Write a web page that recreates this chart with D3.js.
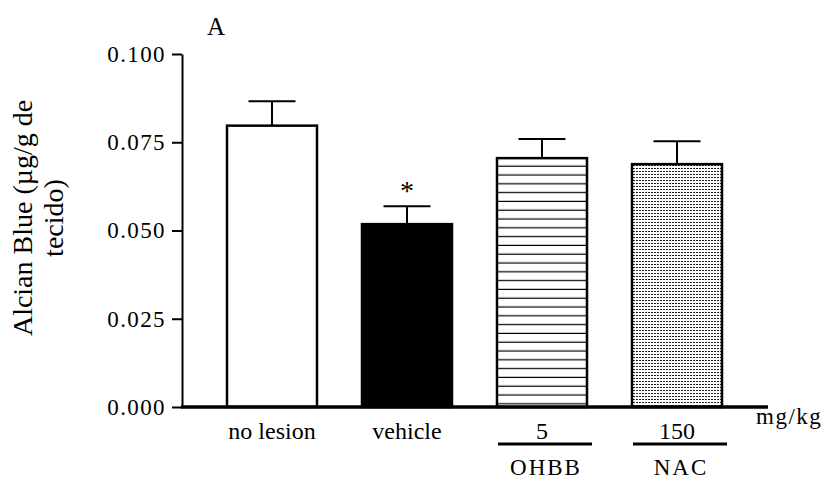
<!DOCTYPE html>
<html>
<head>
<meta charset="utf-8">
<script src="https://cdn.jsdelivr.net/npm/d3@7"></script>
<style>
  body { margin: 0; background: #fff; }
  text { font-family: "Liberation Serif", "Times New Roman", serif; fill: #000; }
</style>
</head>
<body>
<script>
// data
var categories = ["no lesion", "vehicle", "5", "150"];
var means = [0.0797, 0.0518, 0.0705, 0.0688];
var sems = [0.0069, 0.0051, 0.0054, 0.0065];
var fills = ["white", "black", "url(#hlines)", "url(#dots)"];
var groupLabels = ["", "", "OHBB", "NAC"];
var yTicks = [0, 0.025, 0.05, 0.075, 0.1];

var width = 828, height = 480;
var y0 = 407, yTop = 54, axisX = 182;

var svg = d3.select("body").append("svg")
    .attr("width", width)
    .attr("height", height);

// fill patterns
var defs = svg.append("defs");
var hl = defs.append("pattern")
    .attr("id", "hlines")
    .attr("patternUnits", "userSpaceOnUse")
    .attr("width", 10).attr("height", 8.8)
    .attr("y", 158);
hl.append("rect").attr("width", 10).attr("height", 8.8).attr("fill", "white");
hl.append("rect").attr("y", 7.6).attr("width", 10).attr("height", 1.8).attr("fill", "#000");

var dp = defs.append("pattern")
    .attr("id", "dots")
    .attr("patternUnits", "userSpaceOnUse")
    .attr("width", 3).attr("height", 3);
dp.append("rect").attr("width", 3).attr("height", 3).attr("fill", "white");
dp.append("rect").attr("width", 2).attr("height", 1).attr("fill", "#222");

// scales
var x = d3.scaleBand()
    .domain(categories)
    .range([204.5, 744.5])
    .paddingInner(1 / 3)
    .paddingOuter(1 / 6);

var y = d3.scaleLinear()
    .domain([0, 0.1])
    .range([y0, yTop]);

// y axis
var yAxis = svg.append("g")
    .attr("transform", "translate(" + axisX + ",0)")
    .call(d3.axisLeft(y).tickValues(yTicks).tickFormat(d3.format(".3f")).tickSize(10).tickSizeOuter(0).tickPadding(6));
yAxis.select(".domain").attr("stroke-width", 2);
yAxis.selectAll(".tick line").attr("stroke-width", 2);
yAxis.selectAll(".tick text")
    .style("font-family", "Liberation Serif")
    .style("font-size", "23px")
    .style("letter-spacing", "1.4px");

// bars
var idx = d3.range(categories.length);
svg.selectAll(".bar")
    .data(idx)
    .enter().append("rect")
    .attr("class", "bar")
    .attr("x", function(i) { return x(categories[i]); })
    .attr("y", function(i) { return y(means[i]); })
    .attr("width", x.bandwidth())
    .attr("height", function(i) { return y0 - y(means[i]); })
    .attr("fill", function(i) { return fills[i]; })
    .attr("stroke", "black")
    .attr("stroke-width", 2.5);

// error bars
var cap = 47;
svg.selectAll(".err")
    .data(idx)
    .enter().append("line")
    .attr("x1", function(i) { return x(categories[i]) + x.bandwidth() / 2; })
    .attr("x2", function(i) { return x(categories[i]) + x.bandwidth() / 2; })
    .attr("y1", function(i) { return y(means[i]); })
    .attr("y2", function(i) { return y(means[i] + sems[i]); })
    .attr("stroke", "black").attr("stroke-width", 2);
svg.selectAll(".cap")
    .data(idx)
    .enter().append("line")
    .attr("x1", function(i) { return x(categories[i]) + x.bandwidth() / 2 - cap / 2; })
    .attr("x2", function(i) { return x(categories[i]) + x.bandwidth() / 2 + cap / 2; })
    .attr("y1", function(i) { return y(means[i] + sems[i]); })
    .attr("y2", function(i) { return y(means[i] + sems[i]); })
    .attr("stroke", "black").attr("stroke-width", 2);

// x axis line (thick)
svg.append("line")
    .attr("x1", axisX - 1).attr("x2", 768)
    .attr("y1", y0).attr("y2", y0)
    .attr("stroke", "black").attr("stroke-width", 3.5);

// significance star
svg.append("text")
    .attr("x", x("vehicle") + x.bandwidth() / 2)
    .attr("y", y(means[1] + sems[1]) - 6)
    .attr("text-anchor", "middle")
    .style("font-size", "28px")
    .text("*");

// category labels
svg.selectAll(".cat")
    .data(idx)
    .enter().append("text")
    .attr("x", function(i) { return x(categories[i]) + x.bandwidth() / 2; })
    .attr("y", 439)
    .attr("text-anchor", "middle")
    .style("font-size", "24px")
    .text(function(i) { return categories[i]; });

// group underline + names for doses
var doseIdx = idx.filter(function(i) { return groupLabels[i] !== ""; });
svg.selectAll(".uline")
    .data(doseIdx)
    .enter().append("line")
    .attr("x1", function(i) { return x(categories[i]) + 1; })
    .attr("x2", function(i) { return x(categories[i]) + x.bandwidth() + 5; })
    .attr("y1", 444).attr("y2", 444)
    .attr("stroke", "black").attr("stroke-width", 3);
svg.selectAll(".grp")
    .data(doseIdx)
    .enter().append("text")
    .attr("x", function(i) { return x(categories[i]) + x.bandwidth() / 2 + 4; })
    .attr("y", 475)
    .attr("text-anchor", "middle")
    .style("font-size", "23px")
    .style("letter-spacing", "2px")
    .text(function(i) { return groupLabels[i]; });

// units
svg.append("text")
    .attr("x", 756).attr("y", 424)
    .style("font-size", "23px")
    .style("letter-spacing", "1.5px")
    .text("mg/kg");

// panel letter
svg.append("text")
    .attr("x", 207).attr("y", 35)
    .style("font-size", "25px")
    .text("A");

// y axis title (two lines)
var yt = svg.append("text")
    .attr("transform", "translate(32,218) rotate(-90)")
    .attr("text-anchor", "middle")
    .style("font-size", "28px");
yt.append("tspan").attr("x", 0).attr("dy", 0).text("Alcian Blue (µg/g de");
yt.append("tspan").attr("x", 0).attr("dy", 31).text("tecido)");
</script>
</body>
</html>
